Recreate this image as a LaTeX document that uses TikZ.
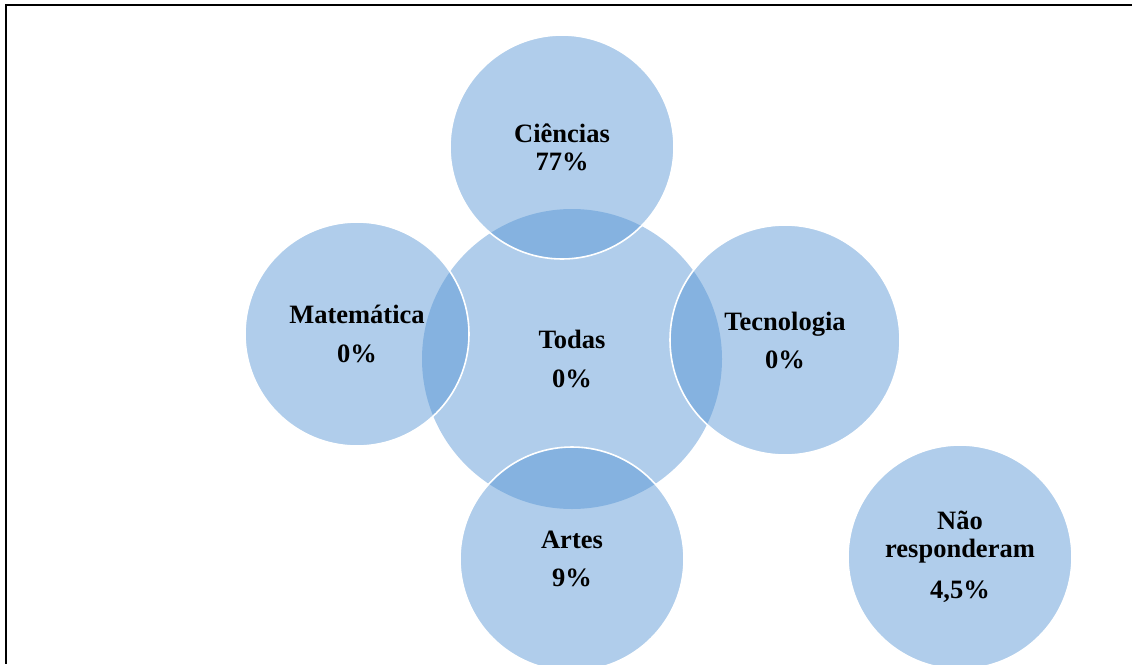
\documentclass[tikz,border=0pt]{standalone}
\usepackage{fontspec}
\setmainfont{Liberation Serif}
\definecolor{bubble}{RGB}{82,146,211}
\begin{document}
\begin{tikzpicture}[x=1pt,y=-1pt,
  bubble/.style={circle, inner sep=0pt, fill=bubble, fill opacity=0.46,
    draw=white, line width=1.6pt, text opacity=1, text=black,
    align=center, font=\fontsize{26.5}{28}\selectfont\bfseries},
  frame/.style={line width=2pt, black}]
  \useasboundingbox (0,0) rectangle (1132,664);
  % outer frame (top and left edges)
  \draw[frame] (1132,5) -- (6,5) -- (6,664);
  % central circle first, the others overlap it
  \node[bubble, draw=none, minimum size=300pt] (todas) at (572,359) {Todas\\[11pt]0\%};
  \node[bubble, minimum size=224pt] (ciencias) at (562,147) {Ciências\\77\%};
  \node[bubble, minimum size=224pt] (mat) at (357,334) {Matemática\\[11pt]0\%};
  \node[bubble, minimum size=230pt] (tec) at (785,340) {Tecnologia\\[10pt]0\%};
  \node[bubble, minimum size=224pt] (artes) at (572,559) {Artes\\[10pt]9\%};
  \node[bubble, minimum size=224pt] (nao) at (960,557) {Não\\responderam\\[13pt]4,5\%};
\end{tikzpicture}
\end{document}
